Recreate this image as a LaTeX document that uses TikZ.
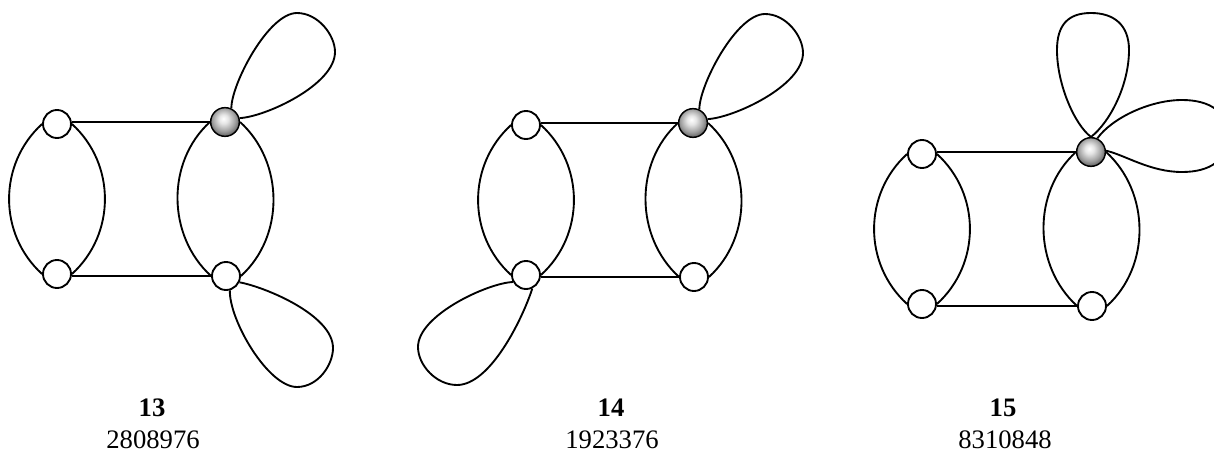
\documentclass[tikz,border=0pt]{standalone}
\usepackage{fontspec}
\setmainfont{Liberation Serif}
\usetikzlibrary{positioning, calc}

\pgfdeclareradialshading{ballshade}{\pgfpoint{-3bp}{6bp}}{%
  color(0bp)=(white); color(8bp)=(gray!20); color(20bp)=(gray!75);
  color(32bp)=(black!75); color(42bp)=(black); color(60bp)=(black)}

\tikzset{
  vertex/.style={draw, circle, fill=white, line width=1.4pt, minimum size=21pt, inner sep=0pt},
  ballvertex/.style={draw=black, circle, shading=ballshade, line width=1.1pt, minimum size=21.5pt, inner sep=0pt},
  edge/.style={line width=1.4pt},
  numlabel/.style={font=\fontsize{20}{24}\selectfont\bfseries, anchor=base, inner sep=0pt},
  countlabel/.style={font=\fontsize{20}{24}\selectfont, anchor=base, inner sep=0pt}
}

\begin{document}
\begin{tikzpicture}[x=0.75pt, y=-0.75pt]
  \useasboundingbox (0,0) rectangle (1214,450);

  % graph 13
  \node[vertex] (a1) at (57,124) {};
  \node[vertex] (b1) at (57,274) {};
  \node[ballvertex] (c1) at (225,122) {};
  \node[vertex] (d1) at (226,276) {};
  \draw[edge] (a1.east |- c1.west) -- (c1.west);
  \draw[edge] (b1.east |- d1.west) -- (d1.west);
  \draw[edge] (a1.west) .. controls +(-44,40) and +(-44,-40) .. (b1.west);
  \draw[edge] (a1.east) .. controls +(44,40) and +(44,-40) .. (b1.east);
  \draw[edge] (c1.west) .. controls +(-44,40) and +(-44,-40) .. (d1.west);
  \draw[edge] (c1.east) .. controls +(44,40) and +(44,-40) .. (d1.east);
  \draw[edge] (c1.65) .. controls (231,85) and (268,13) .. (297,13)
    .. controls (318,13) and (335,35) .. (335,52)
    .. controls (335,85) and (265,117) .. (c1.15);
  \draw[edge] (d1.-75) .. controls (229,320) and (268,387) .. (297,387)
    .. controls (318,387) and (333,365) .. (333,348)
    .. controls (333,315) and (265,287) .. (d1.-25);

  % graph 14
  \node[vertex] (a2) at (526,125) {};
  \node[vertex] (b2) at (526,275) {};
  \node[ballvertex] (c2) at (693,123) {};
  \node[vertex] (d2) at (694,277) {};
  \draw[edge] (a2.east |- c2.west) -- (c2.west);
  \draw[edge] (b2.east |- d2.west) -- (d2.west);
  \draw[edge] (a2.west) .. controls +(-44,40) and +(-44,-40) .. (b2.west);
  \draw[edge] (a2.east) .. controls +(44,40) and +(44,-40) .. (b2.east);
  \draw[edge] (c2.west) .. controls +(-44,40) and +(-44,-40) .. (d2.west);
  \draw[edge] (c2.east) .. controls +(44,40) and +(44,-40) .. (d2.east);
  \draw[edge] (c2.65) .. controls (699,86) and (736,14) .. (765,14)
    .. controls (786,14) and (803,36) .. (803,53)
    .. controls (803,86) and (733,118) .. (c2.15);
  \draw[edge] (b2.-65) .. controls (522,320) and (490,385) .. (457,385)
    .. controls (436,385) and (418,365) .. (418,347)
    .. controls (418,315) and (488,283) .. (b2.-152);

  % graph 15
  \node[vertex] (a3) at (922,154) {};
  \node[vertex] (b3) at (922,304) {};
  \node[ballvertex] (c3) at (1091,152) {};
  \node[vertex] (d3) at (1092,306) {};
  \draw[edge] (a3.east |- c3.west) -- (c3.west);
  \draw[edge] (b3.east |- d3.west) -- (d3.west);
  \draw[edge] (a3.west) .. controls +(-44,40) and +(-44,-40) .. (b3.west);
  \draw[edge] (a3.east) .. controls +(44,40) and +(44,-40) .. (b3.east);
  \draw[edge] (c3.west) .. controls +(-44,40) and +(-44,-40) .. (d3.west);
  \draw[edge] (c3.east) .. controls +(44,40) and +(44,-40) .. (d3.east);
  \draw[edge] (c3.north) .. controls (1075,125) and (1057,85) .. (1057,50)
    .. controls (1057,25) and (1068,13) .. (1091,13)
    .. controls (1114,13) and (1129,25) .. (1129,50)
    .. controls (1129,85) and (1110,122) .. (c3.north);
  \draw[edge] (c3.65) .. controls (1112,118) and (1150,100) .. (1182,100)
    .. controls (1210,100) and (1228,112) .. (1228,136)
    .. controls (1228,160) and (1210,172) .. (1182,172)
    .. controls (1150,172) and (1125,155) .. (c3.5);

  \node[numlabel] (n1) at (152,416.5) {13};
  \node[countlabel] (m1) at (153,448) {2808976};
  \node[numlabel] (n2) at (611,416.5) {14};
  \node[countlabel] (m2) at (612,448) {1923376};
  \node[numlabel] (n3) at (1003,416.5) {15};
  \node[countlabel] (m3) at (1005,448) {8310848};
\end{tikzpicture}
\end{document}
